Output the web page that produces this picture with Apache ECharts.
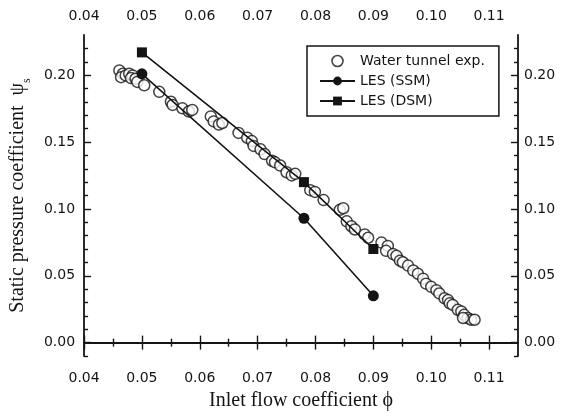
<!DOCTYPE html>
<html>
<head>
<meta charset="utf-8">
<script src="https://cdn.jsdelivr.net/npm/echarts@6/dist/echarts.min.js"></script>
<style>html,body{margin:0;padding:0;background:#fff;}#c{width:566px;height:416px;}</style>
</head>
<body>
<div id="c"></div>
<script>
// ---- data ----
var expX = [0.0461,0.0467,0.0464,0.0472,0.0478,0.0484,0.0481,0.0489,0.0492,0.0504,0.0530,0.0550,0.0553,0.0570,0.0581,0.0587,0.0619,0.0624,0.0633,0.0639,0.0667,0.0682,0.0690,0.0693,0.0705,0.0712,0.0725,0.0730,0.0739,0.0750,0.0759,0.0765,0.0791,0.0799,0.0814,0.0842,0.0848,0.0854,0.0862,0.0868,0.0885,0.0891,0.0914,0.0925,0.0922,0.0934,0.0940,0.0946,0.0951,0.0960,0.0969,0.0977,0.0986,0.0991,0.1000,0.1009,0.1014,0.1023,0.1029,0.1032,0.1037,0.1046,0.1052,0.1057,0.1063,0.1069,0.1075,0.1055];
var expY = [0.2035,0.2010,0.1985,0.1998,0.2010,0.1998,0.1978,0.1973,0.1949,0.1924,0.1875,0.1801,0.1777,0.1752,0.1728,0.1740,0.1691,0.1654,0.1630,0.1642,0.1568,0.1532,0.1507,0.1471,0.1445,0.1410,0.1360,0.1348,0.1324,0.1274,0.1250,0.1262,0.1140,0.1127,0.1066,0.0993,0.1005,0.0907,0.0870,0.0846,0.0809,0.0784,0.0748,0.0723,0.0686,0.0662,0.0649,0.0613,0.0601,0.0576,0.0539,0.0515,0.0478,0.0441,0.0417,0.0392,0.0368,0.0331,0.0318,0.0294,0.0282,0.0245,0.0233,0.0208,0.0184,0.0171,0.0171,0.0184];
var ssmX = [0.050, 0.078, 0.090];
var ssmY = [0.201, 0.093, 0.035];
var dsmX = [0.050, 0.078, 0.090];
var dsmY = [0.217, 0.120, 0.070];
var xMajor = [0.04,0.05,0.06,0.07,0.08,0.09,0.10,0.11];
var xMinor = [0.045,0.055,0.065,0.075,0.085,0.095,0.105];
var yMajor = [0.00,0.05,0.10,0.15,0.20];
var yMinor = [-0.01,0.01,0.02,0.03,0.04,0.06,0.07,0.08,0.09,0.11,0.12,0.13,0.14,0.16,0.17,0.18,0.19,0.21,0.22];
var seriesNames = ['Water tunnel exp.', 'LES (SSM)', 'LES (DSM)'];

function zip(a, b) { return a.map(function (v, i) { return [v, b[i]]; }); }

var INK = '#141414';
var labelFont = { fontFamily: 'DejaVu Sans', fontSize: 14, color: INK };
function fmt(v) { return v.toFixed(2); }

function xAx(pos, major, showLabel) {
  return {
    type: 'value', position: pos, min: 0.04, max: 0.115,
    axisLine: { show: major, lineStyle: { color: INK, width: 1.8 } },
    splitLine: { show: false },
    axisTick: { show: true, inside: true, length: major ? 7 : 4, lineStyle: { color: INK, width: 1.4 },
                customValues: major ? xMajor : xMinor },
    axisLabel: showLabel ? Object.assign({ show: true, margin: pos === 'bottom' ? 15 : 12, formatter: fmt, customValues: xMajor }, labelFont) : { show: false }
  };
}
function yAx(pos, major, showLabel) {
  return {
    type: 'value', position: pos, min: -0.01, max: 0.23,
    axisLine: { show: major, lineStyle: { color: INK, width: 1.8 } },
    splitLine: { show: false },
    axisTick: { show: true, inside: true, length: major ? 7 : 4, lineStyle: { color: INK, width: 1.4 },
                customValues: major ? yMajor : yMinor },
    axisLabel: showLabel ? Object.assign({ show: true, margin: pos === 'left' ? 9 : 6, formatter: fmt, customValues: yMajor }, labelFont) : { show: false }
  };
}

var xAxes = [xAx('bottom', true, true), xAx('top', true, true), xAx('bottom', false, false), xAx('top', false, false)];
xAxes[0].name = 'Inlet flow coefficient \u03d5';
xAxes[0].nameLocation = 'middle';
xAxes[0].nameGap = 35;
xAxes[0].nameTextStyle = { fontFamily: 'Liberation Serif', fontSize: 20, color: INK };

var yAxes = [yAx('left', true, true), yAx('right', true, true), yAx('left', false, false), yAx('right', false, false)];
yAxes[0].name = '{t|Static pressure coefficient  \u03c8}{s|s}';
yAxes[0].nameLocation = 'middle';
yAxes[0].nameRotate = 90;
yAxes[0].nameGap = 53;
yAxes[0].nameTextStyle = {
  color: INK,
  rich: {
    t: { fontFamily: 'Liberation Serif', fontSize: 20, color: INK, verticalAlign: 'bottom', lineHeight: 24 },
    s: { fontFamily: 'Liberation Serif', fontSize: 12, color: INK, verticalAlign: 'bottom', lineHeight: 14, padding: [0, 0, -5, 0] }
  }
};

var chart = echarts.init(document.getElementById('c'), null, { renderer: 'canvas' });
chart.setOption({
  animation: false,
  backgroundColor: '#fff',
  grid: { left: 83, right: 48, top: 35, bottom: 57, containLabel: false },
  legend: {
    orient: 'vertical', left: 307, top: 46,
    data: [
      { name: seriesNames[0], itemStyle: { color: '#fff', borderColor: INK, borderWidth: 1.6 } },
      { name: seriesNames[1] },
      { name: seriesNames[2] }
    ],
    itemWidth: 35, itemHeight: 11, itemGap: 6,
    padding: [8, 14, 8, 12],
    borderColor: INK, borderWidth: 1.5,
    textStyle: { fontFamily: 'DejaVu Sans', fontSize: 14, color: INK },
    backgroundColor: '#fff'
  },
  xAxis: xAxes,
  yAxis: yAxes,
  series: [
    {
      name: seriesNames[0], type: 'scatter', xAxisIndex: 0, yAxisIndex: 0,
      data: zip(expX, expY), symbol: 'circle', symbolSize: 11,
      itemStyle: { color: '#fff', borderColor: INK, borderWidth: 1.5 }
    },
    {
      name: seriesNames[1], type: 'line', xAxisIndex: 0, yAxisIndex: 0,
      data: zip(ssmX, ssmY), symbol: 'circle', symbolSize: 11, showAllSymbol: true,
      lineStyle: { color: INK, width: 1.6 }, itemStyle: { color: INK, borderColor: INK, borderWidth: 0 }
    },
    {
      name: seriesNames[2], type: 'line', xAxisIndex: 0, yAxisIndex: 0,
      data: zip(dsmX, dsmY), symbol: 'rect', symbolSize: 10, showAllSymbol: true,
      lineStyle: { color: INK, width: 1.6 }, itemStyle: { color: INK, borderColor: INK, borderWidth: 0 }
    }
  ]
});
</script>
</body>
</html>
